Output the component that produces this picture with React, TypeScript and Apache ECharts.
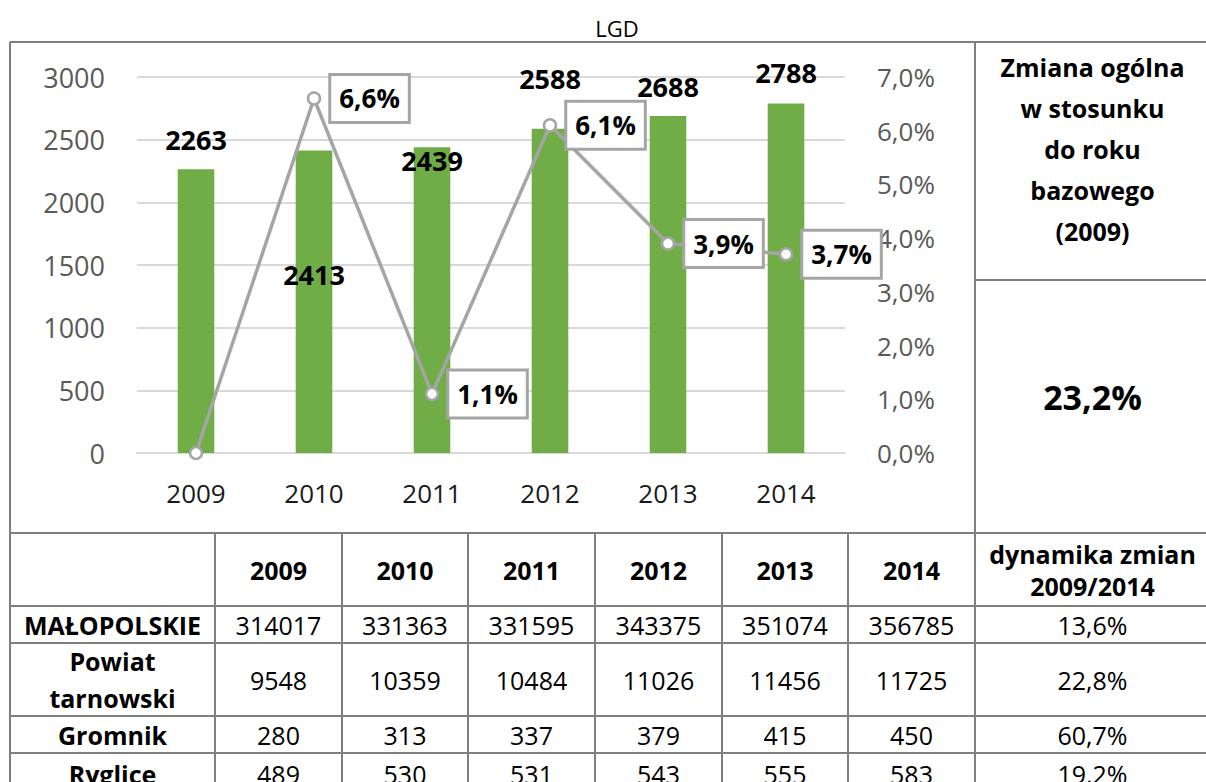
import React, { useEffect, useRef } from "react";
import * as echarts from "echarts";

// ---- data ----
const categories = ["2009", "2010", "2011", "2012", "2013", "2014"];
const firmsCount = [2263, 2413, 2439, 2588, 2688, 2788];
const yearlyChangePct = [0, 6.6, 1.1, 6.1, 3.9, 3.7];

const rowNames = ["MAŁOPOLSKIE", "Powiat\ntarnowski", "Gromnik", "Ryglice"];
const malopolskie = [314017, 331363, 331595, 343375, 351074, 356785];
const powiatTarnowski = [9548, 10359, 10484, 11026, 11456, 11725];
const gromnik = [280, 313, 337, 379, 415, 450];
const ryglice = [489, 530, 531, 543, 555, 583];
const dynamics = [13.6, 22.8, 60.7, 19.2];
const overallChange = 23.2;

const subtitle = "LGD";
const sideHeader = "Zmiana ogólna\nw stosunku\ndo roku\nbazowego\n(2009)";
const dynamicsHeader = "dynamika zmian\n2009/2014";

// ---- layout (not data) ----
const barLabelDy = [-30, 124, 13, -50, -30, -31];
const colX = [10, 215, 342, 468, 595, 722, 848, 975, 1210];
const rowY = [42, 533, 606, 643, 716, 753, 795];
const sideSplitY = 280;

const FONT = "'Open Sans', 'Noto Sans', sans-serif";
const fmtPct = (v: number) => v.toFixed(1).replace(".", ",") + "%";

function buildGraphic() {
  const g: any[] = [];
  const lineStyle = { stroke: "#7F7F7F", lineWidth: 2 };
  const hline = (x1: number, x2: number, y: number) =>
    g.push({ type: "line", silent: true, shape: { x1, y1: y, x2, y2: y }, style: lineStyle });
  const vline = (x: number, y1: number, y2: number) =>
    g.push({ type: "line", silent: true, shape: { x1: x, y1, x2: x, y2 }, style: lineStyle });
  const text = (t: string, x: number, y: number, size: number, bold: boolean, lh?: number) =>
    g.push({
      type: "text",
      silent: true,
      x,
      y,
      z: 10,
      style: {
        text: t,
        fill: "#000",
        fontSize: size,
        fontFamily: FONT,
        fontWeight: bold ? "bold" : "normal",
        align: "center",
        verticalAlign: "middle",
        lineHeight: lh || size * 1.3,
      },
    });

  const left = colX[0];
  const right = colX[colX.length - 1];
  rowY.forEach((y) => hline(left, right, y));
  hline(colX[7], right, sideSplitY);
  vline(left, rowY[0], rowY[rowY.length - 1]);
  vline(colX[7], rowY[0], rowY[rowY.length - 1]);
  for (let i = 1; i < 7; i++) vline(colX[i], rowY[1], rowY[rowY.length - 1]);

  const cx = (i: number) => (colX[i] + colX[i + 1]) / 2;
  const cy = (r: number) => (rowY[r] + rowY[r + 1]) / 2;

  text(subtitle, 617, 28, 22, false);

  text(sideHeader, cx(7), 149, 25, true, 41);
  text(fmtPct(overallChange), cx(7), 397, 34, true);

  categories.forEach((c, i) => text(c, cx(i + 1), cy(1), 25, true));
  text(dynamicsHeader, cx(7), cy(1), 25, true, 32);

  const rows = [malopolskie, powiatTarnowski, gromnik, ryglice];
  rows.forEach((vals, r) => {
    const y = cy(r + 2);
    text(rowNames[r], cx(0), y, 25, true, 37);
    vals.forEach((v, i) => text(String(v), cx(i + 1), y, 25, false));
    text(fmtPct(dynamics[r]), cx(7), y, 25, false);
  });
  return g;
}

export default function App() {
  const ref = useRef<HTMLDivElement>(null);
  useEffect(() => {
    if (!ref.current) return;
    const chart = echarts.init(ref.current, undefined, { renderer: "svg" });
    const option: any = {
      animation: false,
      backgroundColor: "#fff",
      textStyle: { fontFamily: FONT },
      grid: { left: 137, right: 361, top: 77, bottom: 329, containLabel: false },
      xAxis: {
        type: "category",
        data: categories,
        axisLine: { show: true, lineStyle: { color: "#D9D9D9", width: 2 } },
        axisTick: { show: false },
        axisLabel: { fontSize: 26, color: "#1a1a1a", margin: 27, fontFamily: FONT },
      },
      yAxis: [
        {
          type: "value",
          min: 0,
          max: 3000,
          interval: 500,
          axisLine: { show: false },
          axisTick: { show: false },
          axisLabel: {
            fontSize: 27,
            color: "#595959",
            margin: 32,
            fontFamily: FONT,
            formatter: (v: number) => String(v),
          },
          splitLine: { lineStyle: { color: "#D9D9D9", width: 2 } },
        },
        {
          type: "value",
          min: 0,
          max: 7,
          interval: 1,
          position: "right",
          axisLine: { show: false },
          axisTick: { show: false },
          axisLabel: {
            fontSize: 26,
            color: "#595959",
            margin: 32,
            fontFamily: FONT,
            formatter: (v: number) => fmtPct(v),
          },
          splitLine: { show: false },
        },
      ],
      series: [
        {
          type: "bar",
          yAxisIndex: 0,
          barWidth: "31%",
          itemStyle: { color: "#70AD47" },
          z: 2,
          data: firmsCount.map((v, i) => ({
            value: v,
            label: {
              show: true,
              position: ["50%", barLabelDy[i]],
              align: "center",
              verticalAlign: "middle",
              fontSize: 27,
              fontWeight: "bold",
              color: "#000",
              fontFamily: FONT,
            },
          })),
        },
        {
          type: "line",
          yAxisIndex: 1,
          z: 5,
          symbol: "circle",
          symbolSize: 12,
          lineStyle: { color: "#A5A5A5", width: 3.5 },
          itemStyle: { color: "#fff", borderColor: "#A5A5A5", borderWidth: 2.5 },
          label: {
            show: true,
            position: "right",
            distance: 10,
            formatter: (p: any) => fmtPct(p.value),
            fontSize: 26,
            fontWeight: "bold",
            color: "#000",
            fontFamily: FONT,
            backgroundColor: "#fff",
            borderColor: "#A5A5A5",
            borderWidth: 3,
            padding: [7, 8, 6, 8],
            lineHeight: 32,
          },
          data: yearlyChangePct.map((v, i) =>
            i === 0 ? { value: v, label: { show: false } } : v
          ),
        },
      ],
      graphic: buildGraphic(),
    };
    chart.setOption(option);
    return () => chart.dispose();
  }, []);
  return (
    <div
      ref={ref}
      style={{ position: "absolute", left: 0, top: 0, width: 1206, height: 782, background: "#fff" }}
    />
  );
}
